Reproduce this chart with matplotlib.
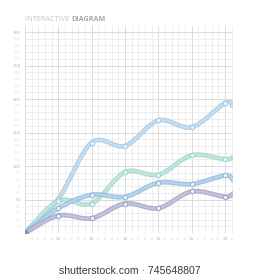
import matplotlib
matplotlib.use("Agg")
import matplotlib.pyplot as plt
from matplotlib.path import Path
from matplotlib.patches import PathPatch
import numpy as np

# values
x_vals = [0, 5, 10, 15, 20, 25, 30, 31.2]
series_a = [0, 51, 135, 130, 168, 158, 194, 189]
series_b = [0, 48, 44, 91, 87, 116, 110, 113]
series_c = [0, 37, 57, 54, 75, 73, 86, 79]
series_d = [0, 26, 22, 44, 37, 62, 54, 59]

y_major = [0, 50, 100, 150, 200, 250, 300]
x_major = [0, 5, 10, 15, 20, 25, 30]

colors = {
    "a": ("#a9cbe6", "#c9e0f1"),
    "b": ("#a2d6cf", "#c4e8e2"),
    "c": ("#94bcdc", "#bcd6ec"),
    "d": ("#a2a6c6", "#c4c7dd"),
}


def smooth_path(xs, ys):
    # catmull-rom segments expressed as cubic bezier codes
    pts = np.column_stack([xs, ys])
    verts = [pts[0]]
    codes = [Path.MOVETO]
    n = len(pts)
    for i in range(n - 1):
        p0 = pts[i - 1] if i > 0 else pts[i]
        p1 = pts[i]
        p2 = pts[i + 1]
        p3 = pts[i + 2] if i + 2 < n else pts[i + 1]
        c1 = p1 + (p2 - p0) / 6.0
        c2 = p2 - (p3 - p1) / 6.0
        verts += [c1, c2, p2]
        codes += [Path.CURVE4] * 3
    return Path(verts, codes)


fig = plt.figure(figsize=(2.6, 2.8), dpi=100)
ax = fig.add_axes([25 / 260, 1 - 233 / 280, 208 / 260, 207 / 280])
ax.set_xlim(0, 31.2)
ax.set_ylim(0, 309)

ax.set_xticks(x_major)
ax.set_xticks([v for v in range(32) if v % 5], minor=True)
ax.set_yticks(y_major)
ax.set_yticks([v for v in range(0, 310, 10) if v % 50], minor=True)
ax.grid(which="major", color="#d6d6d6", lw=0.6)
ax.grid(which="minor", color="#e8e8e8", lw=0.5)
ax.set_axisbelow(True)
for s in ax.spines.values():
    s.set_visible(False)
ax.tick_params(which="both", length=0, pad=3)
ax.set_xticklabels(["" if v == 0 else f"{v:02d}" for v in x_major],
                   fontsize=3.2, color="#b5b5b5")
ax.set_yticklabels(["" if v == 0 else str(v) for v in y_major],
                   fontsize=3.2, color="#b5b5b5")
ax.set_xticklabels(["%02d" % v for v in range(32) if v % 5],
                   minor=True, fontsize=2.6, color="#e2e2e2")
ax.set_yticklabels([str(v) for v in range(0, 310, 10) if v % 50],
                   minor=True, fontsize=2.6, color="#e2e2e2")

for key, ys in [("a", series_a), ("b", series_b), ("c", series_c), ("d", series_d)]:
    dark, light = colors[key]
    path = smooth_path(x_vals, ys)
    ax.add_patch(PathPatch(path, fill=False, edgecolor=dark, lw=3.4,
                           alpha=0.85, capstyle="round", joinstyle="round"))
    ax.add_patch(PathPatch(path, fill=False, edgecolor=light, lw=1.4,
                           alpha=0.9, capstyle="round"))
    ax.plot(x_vals[1:-1], ys[1:-1], "o", ms=3.2, mfc="#eef4f8", mec=dark,
            mew=0.8, zorder=5)

ax.plot([0], [0], "o", ms=4, color="#6f9cbc", zorder=6)

t1 = fig.text(25 / 260, 1 - 21 / 280, "INTERACTIVE ", fontsize=5.2,
              color="#c4c4c4", family="Open Sans")
fig.canvas.draw()
bb = t1.get_window_extent()
fig.text(bb.x1 / 260, 1 - 21 / 280, "DIAGRAM", fontsize=5.2,
         color="#a9a9a9", fontweight="bold", family="Open Sans")

fig.text(0.5, 1 - 274 / 280, "shutterstock.com \u00b7 745648807", ha="center",
         fontsize=7.6, color="#3a3a3a", family="Liberation Sans")

fig.savefig("out.png", dpi=100)
